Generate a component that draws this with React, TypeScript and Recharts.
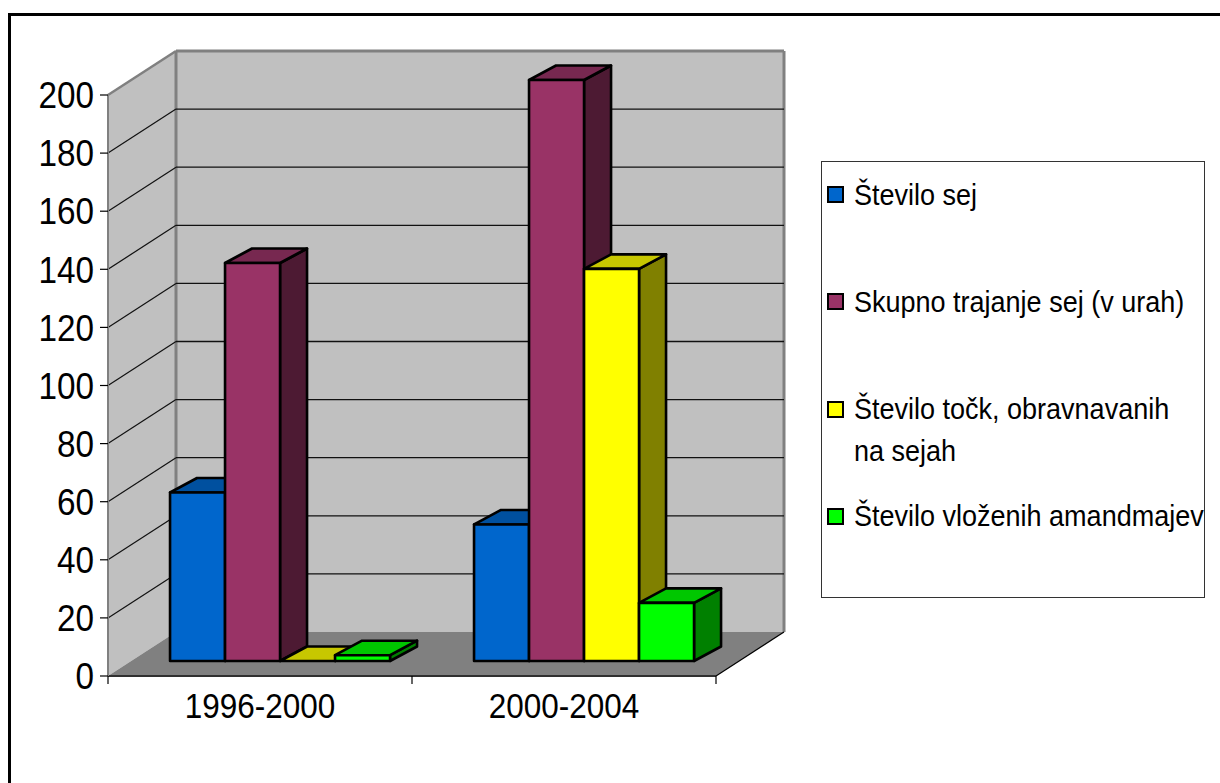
import React from 'react';
import { BarChart, Bar, XAxis, YAxis, CartesianGrid, Legend } from 'recharts';

// Periods on the category axis
const periods = ['1996-2000', '2000-2004'];

// Series values per period
const steviloSej = [58, 47];
const trajanjeSej = [137, 200];
const steviloTock = [0, 135];
const steviloAmandmajev = [2, 20];

const yTicks = [0, 20, 40, 60, 80, 100, 120, 140, 160, 180, 200];

const seriesKeys = ['sej', 'trajanje', 'tocke', 'amandmaji'];
const seriesNames = [
  'Število sej',
  'Skupno trajanje sej (v urah)',
  'Število točk, obravnavanih na sejah',
  'Število vloženih amandmajev',
];
const seriesColors = ['#0066cc', '#993366', '#ffff00', '#00ff00'];

const data = periods.map((period, i) => ({
  period,
  sej: steviloSej[i],
  trajanje: trajanjeSej[i],
  tocke: steviloTock[i],
  amandmaji: steviloAmandmajev[i],
}));

const FONT = '"Liberation Sans", Arial, sans-serif';
const CHART_W = 1209;
const CHART_H = 767;
const MARGIN = { top: 79, right: 504, bottom: 47, left: 7 };
const Y_AXIS_W = 90;
const X_AXIS_H = 60;
const X_TICK_SIZE = 8;
const X_TICK_MARGIN = 2;

// depth of the walls / floor
const WALL_DX = 68;
const WALL_DY = -44;
// bars sit half way into the floor
const BAR_SHIFT_X = 21;
const BAR_SHIFT_Y = -15;
// depth of each bar box
const BOX_DX = 27;
const BOX_DY = -14.5;

const shade = (hex: string, k: number) => {
  const n = parseInt(hex.slice(1), 16);
  const r = Math.round(((n >> 16) & 255) * k);
  const g = Math.round(((n >> 8) & 255) * k);
  const b = Math.round((n & 255) * k);
  return `rgb(${r},${g},${b})`;
};

const Bar3D = (props: any) => {
  const { x, y, width, height, fill } = props;
  if (x == null || y == null || !width) return null;
  const h = Math.max(0, height || 0);
  const fx = x + BAR_SHIFT_X;
  const fy = y + BAR_SHIFT_Y;
  const top = `${fx},${fy} ${fx + BOX_DX},${fy + BOX_DY} ${fx + width + BOX_DX},${fy + BOX_DY} ${fx + width},${fy}`;
  const side = `${fx + width},${fy} ${fx + width + BOX_DX},${fy + BOX_DY} ${fx + width + BOX_DX},${fy + h + BOX_DY} ${fx + width},${fy + h}`;
  return (
    <g stroke="#000" strokeWidth={2.6} strokeLinejoin="round">
      <polygon points={side} fill={shade(fill, 0.5)} />
      <polygon points={top} fill={shade(fill, 0.78)} />
      <rect x={fx} y={fy} width={width} height={h} fill={fill} />
    </g>
  );
};

// Walls, floor and gridlines are drawn from the grid's own horizontal lines
const renderGridLine = (props: any) => {
  const { x1, x2, y1, index } = props;
  const x = x1;
  const width = x2 - x1;
  const y = props.y ?? props.offset?.top ?? MARGIN.top;
  const height = props.height ?? props.offset?.height ?? CHART_H - MARGIN.top - MARGIN.bottom - X_AXIS_H;
  const bottom = y + height;
  const parts: React.ReactNode[] = [];

  if (index === 0) {
    const bx = x + WALL_DX;
    const by = y + WALL_DY;
    parts.push(
      <rect key="back" x={bx} y={by} width={width} height={height} fill="#c0c0c0" />,
      <polygon
        key="left"
        points={`${x},${bottom} ${x},${y} ${bx},${by} ${bx},${bottom + WALL_DY}`}
        fill="#c0c0c0"
      />,
      <polygon
        key="floor"
        points={`${x},${bottom} ${x + width},${bottom} ${x + width + WALL_DX},${bottom + WALL_DY} ${bx},${bottom + WALL_DY}`}
        fill="#808080"
      />,
      <line key="edge-l" x1={bx} y1={by} x2={bx} y2={bottom + WALL_DY} stroke="#808080" strokeWidth={3} />,
      <line key="edge-t" x1={bx} y1={by} x2={bx + width} y2={by} stroke="#808080" strokeWidth={3} />,
      <line key="edge-r" x1={bx + width} y1={by} x2={bx + width} y2={bottom + WALL_DY} stroke="#808080" strokeWidth={3} />,
      <line key="edge-lt" x1={x} y1={y} x2={bx} y2={by} stroke="#808080" strokeWidth={2.5} />,
      <line
        key="edge-fr"
        x1={x + width}
        y1={bottom}
        x2={x + width + WALL_DX}
        y2={bottom + WALL_DY}
        stroke="#000"
        strokeWidth={1.2}
      />
    );
  }

  const isEdge = Math.abs(y1 - y) < 0.5 || Math.abs(y1 - bottom) < 0.5;
  if (!isEdge) {
    parts.push(
      <line key="gl" x1={x} y1={y1} x2={x + WALL_DX} y2={y1 + WALL_DY} stroke="#111" strokeWidth={1.2} />,
      <line
        key="gb"
        x1={x + WALL_DX}
        y1={y1 + WALL_DY}
        x2={x + width + WALL_DX}
        y2={y1 + WALL_DY}
        stroke="#111"
        strokeWidth={1.3}
      />
    );
  }
  return <g key={`grid-${index}`}>{parts}</g>;
};

const ValueTick = (props: any) => {
  const { x, y, payload } = props;
  return (
    <text
      transform={`translate(${x},${y + 13.2}) scale(0.9,1)`}
      textAnchor="end"
      fontSize={37}
      fontFamily={FONT}
      fill="#000"
    >
      {payload.value}
    </text>
  );
};

const PeriodTick = (props: any) => {
  const { x, y, payload, index, visibleTicksCount } = props;
  const half = payload?.offset || (CHART_W - MARGIN.left - MARGIN.right - Y_AXIS_W) / periods.length / 2;
  const axisY = y - X_TICK_SIZE - X_TICK_MARGIN;
  const last = index === (visibleTicksCount ?? periods.length) - 1;
  return (
    <g>
      <line x1={x - half} y1={axisY} x2={x - half} y2={axisY + X_TICK_SIZE} stroke="#000" strokeWidth={1.2} />
      {last && (
        <line x1={x + half} y1={axisY} x2={x + half} y2={axisY + X_TICK_SIZE} stroke="#000" strokeWidth={1.2} />
      )}
      <text
        transform={`translate(${x},${axisY + 42.3}) scale(0.9,1)`}
        textAnchor="middle"
        fontSize={35}
        fontFamily={FONT}
        fill="#000"
      >
        {payload.value}
      </text>
    </g>
  );
};

// simple word wrap on character count
const wrapLabel = (label: string, maxChars: number) => {
  const lines: string[] = [];
  let cur = '';
  label.split(' ').forEach((w) => {
    const next = cur ? `${cur} ${w}` : w;
    if (next.length > maxChars && cur) {
      lines.push(cur);
      cur = w;
    } else {
      cur = next;
    }
  });
  if (cur) lines.push(cur);
  return lines;
};

const LegendBox = ({ payload }: any) => {
  // keep the series order of the chart
  const items = [...(payload || [])].sort(
    (a: any, b: any) => seriesNames.indexOf(String(a.value)) - seriesNames.indexOf(String(b.value))
  );
  return (
    <div
      style={{
        position: 'relative',
        width: 384,
        height: 437,
        boxSizing: 'border-box',
        border: '1.5px solid #333',
        background: '#fff',
        fontFamily: FONT,
      }}
    >
      {items.map((entry: any, i: number) => {
        const center = 32.5 + i * 107.3;
        return (
          <div key={`leg-${i}`}>
            <div
              style={{
                position: 'absolute',
                left: 4.5,
                top: center - 8.5,
                width: 17,
                height: 17,
                boxSizing: 'border-box',
                border: '2px solid #000',
                background: entry.color,
              }}
            />
            <div
              style={{
                position: 'absolute',
                left: 31.5,
                top: center - 21,
                transform: 'scaleX(0.9)',
                transformOrigin: 'left top',
                fontSize: 30,
                lineHeight: '42px',
                color: '#000',
              }}
            >
              {wrapLabel(String(entry.value), 28).map((line, j) => (
                <div key={j} style={{ whiteSpace: 'nowrap' }}>
                  {line}
                </div>
              ))}
            </div>
          </div>
        );
      })}
    </div>
  );
};

export default function App() {
  return (
    <div
      style={{
        position: 'fixed',
        left: 8,
        top: 13,
        width: CHART_W,
        height: CHART_H,
        borderTop: '3px solid #000',
        borderLeft: '3px solid #000',
        background: '#fff',
      }}
    >
      <BarChart
        width={CHART_W}
        height={CHART_H}
        data={data}
        margin={MARGIN}
        barCategoryGap="13.5%"
        barGap={0}
      >
        <CartesianGrid vertical={false} horizontal={renderGridLine} />
        <XAxis
          dataKey="period"
          height={X_AXIS_H}
          tickLine={false}
          tickSize={X_TICK_SIZE}
          tickMargin={X_TICK_MARGIN}
          axisLine={{ stroke: '#303030', strokeWidth: 2 }}
          tick={<PeriodTick />}
        />
        <YAxis
          width={Y_AXIS_W}
          domain={[0, 200]}
          ticks={yTicks}
          interval={0}
          tickSize={8}
          tickMargin={6}
          axisLine={{ stroke: '#808080', strokeWidth: 2 }}
          tickLine={{ stroke: '#000', strokeWidth: 1.2 }}
          tick={<ValueTick />}
        />
        <Legend
          layout="vertical"
          align="center"
          verticalAlign="middle"
          wrapperStyle={{ left: 810, top: 145, width: 384, height: 437 }}
          content={<LegendBox />}
        />
        {seriesKeys.map((key, i) => (
          <Bar
            key={key}
            dataKey={key}
            name={seriesNames[i]}
            fill={seriesColors[i]}
            shape={<Bar3D />}
            isAnimationActive={false}
          />
        ))}
      </BarChart>
    </div>
  );
}
